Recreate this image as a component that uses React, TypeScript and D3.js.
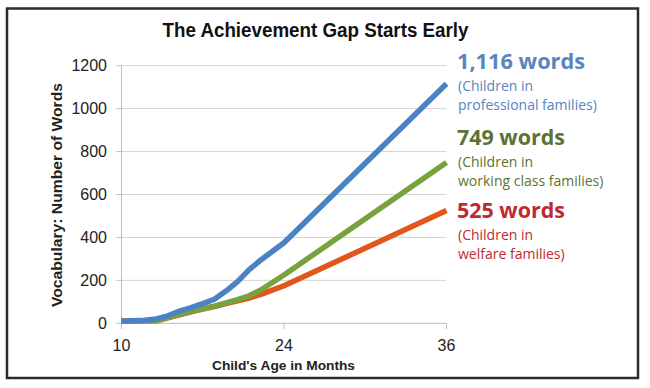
import React from "react";
import * as d3 from "d3";

const months = [10, 11, 12, 13, 14, 15, 16, 17, 18, 19, 20, 21, 22, 24, 36];
const professional = [10, 12, 14, 20, 35, 57, 73, 92, 112, 150, 194, 250, 295, 375, 1116];
const workingClass = [10, 11, 12, 12, 28, 42, 55, 68, 80, 95, 110, 128, 155, 225, 749];
const welfare = [10, 11, 12, 12, 26, 40, 53, 66, 78, 92, 105, 118, 135, 175, 525];

const xTicks = [10, 24, 36];
const yTicks = [0, 200, 400, 600, 800, 1000, 1200];

const seriesList = [
  { name: "welfare", values: welfare, color: "#e2561b" },
  { name: "working", values: workingClass, color: "#78a23d" },
  { name: "professional", values: professional, color: "#4a82c4" },
];

const labels = [
  { big: "1,116 words", l1: "(Children in", l2: "professional families)", color: "#5884c0", y: 69 },
  { big: "749 words", l1: "(Children in", l2: "working class families)", color: "#5b7333", y: 145 },
  { big: "525 words", l1: "(Children in", l2: "welfare families)", color: "#bd2a30", y: 218 },
];

export default function App() {
  const x = d3.scaleLinear().domain([10, 24, 36]).range([121.5, 284, 446.5]);
  const y = d3.scaleLinear().domain([0, 1200]).range([323.3, 65.7]);
  const line = (vals: number[]) =>
    d3
      .line<number>()
      .x((_, i) => x(months[i]))
      .y((d) => y(d))(vals) as string;

  const axisFont = "'Liberation Sans', Arial, sans-serif";
  const noteFont = "'Open Sans', 'Noto Sans', sans-serif";

  return (
    <svg
      width={650}
      height={388}
      style={{ position: "absolute", left: 0, top: 0, background: "#fff" }}
    >
      <rect x={0} y={0} width={650} height={388} fill="#fff" />
      <rect x={7} y={8.5} width={631} height={369.5} fill="none" stroke="#2b2b2b" strokeWidth={2.5} />

      <text
        x={315.5}
        y={37}
        textAnchor="middle"
        fontFamily={axisFont}
        fontWeight="bold"
        fontSize={20}
        textLength={306}
        lengthAdjust="spacingAndGlyphs"
        fill="#111"
      >
        The Achievement Gap Starts Early
      </text>

      {yTicks.map((t) => (
        <g key={t}>
          {t > 0 && (
            <line x1={x(10)} x2={x(36)} y1={y(t)} y2={y(t)} stroke="#d4d4d4" strokeWidth={1} />
          )}
          <line x1={x(10) - 5} x2={x(10)} y1={y(t)} y2={y(t)} stroke="#bdbdbd" strokeWidth={1} />
          <text
            x={107}
            y={y(t)}
            dy="0.35em"
            textAnchor="end"
            fontFamily={axisFont}
            fontSize={16}
            fill="#222"
          >
            {t}
          </text>
        </g>
      ))}

      <line x1={x(10)} x2={x(10)} y1={y(1200)} y2={y(0)} stroke="#bdbdbd" strokeWidth={1} />
      <line x1={x(10)} x2={x(36)} y1={y(0)} y2={y(0)} stroke="#bdbdbd" strokeWidth={1} />
      {xTicks.map((t) => (
        <g key={t}>
          <line x1={x(t)} x2={x(t)} y1={y(0)} y2={y(0) + 6} stroke="#bdbdbd" strokeWidth={1} />
          <text
            x={x(t)}
            y={351}
            textAnchor="middle"
            fontFamily={axisFont}
            fontSize={16}
            fill="#222"
          >
            {t}
          </text>
        </g>
      ))}

      <text
        x={283.5}
        y={370}
        textAnchor="middle"
        fontFamily={axisFont}
        fontWeight="bold"
        fontSize={13.5}
        textLength={143}
        lengthAdjust="spacingAndGlyphs"
        fill="#222"
      >
        Child's Age in Months
      </text>

      <text
        transform="translate(62,195) rotate(-90)"
        textAnchor="middle"
        fontFamily={axisFont}
        fontWeight="bold"
        fontSize={15}
        textLength={224}
        lengthAdjust="spacingAndGlyphs"
        fill="#222"
      >
        Vocabulary: Number of Words
      </text>

      {seriesList.map((s) => (
        <path
          key={s.name}
          d={line(s.values)}
          fill="none"
          stroke={s.color}
          strokeWidth={5.5}
          strokeLinejoin="round"
        />
      ))}

      {labels.map((l) => (
        <g key={l.big} fontFamily={noteFont} fill={l.color}>
          <text x={457} y={l.y} fontSize={21} fontWeight="bold" textLength={l.big.length > 9 ? 128 : 108} lengthAdjust="spacingAndGlyphs">
            {l.big}
          </text>
          <text x={458} y={l.y + 21.5} fontSize={14}>
            {l.l1}
          </text>
          <text x={458} y={l.y + 40.5} fontSize={14}>
            {l.l2}
          </text>
        </g>
      ))}
    </svg>
  );
}
